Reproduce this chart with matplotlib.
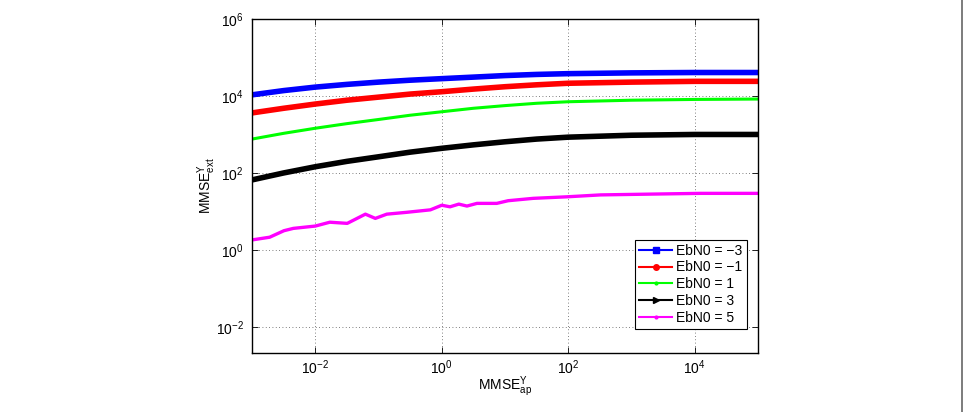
import matplotlib
matplotlib.use("Agg")
import matplotlib.pyplot as plt
from matplotlib.lines import Line2D

plt.rcParams['font.family'] = ['Liberation Sans', 'DejaVu Sans']
plt.rcParams['mathtext.fontset'] = 'custom'
plt.rcParams['mathtext.rm'] = 'Liberation Sans'
plt.rcParams['mathtext.it'] = 'Liberation Sans'

# smooth curves sampled at these MMSE_ap values (half decades)
x_smooth = [1e-3, 3.16e-3, 1e-2, 3.16e-2, 0.1, 0.316, 1.0, 3.16, 10, 31.6, 100, 1e3, 1e4, 1e5]
y_m3 = [10700, 13800, 17000, 20000, 22900, 25700, 28200, 30900, 33900, 36300, 38000, 39800, 40700, 40700]
y_m1 = [3630, 4790, 6170, 7760, 9330, 11200, 12900, 15100, 17400, 19500, 21400, 22900, 24000, 24000]
y_p1 = [759, 1070, 1450, 1910, 2450, 3160, 3890, 4790, 5620, 6460, 7080, 7760, 8130, 8320]
y_p3 = [66, 100, 145, 200, 263, 347, 437, 537, 646, 759, 851, 955, 1000, 1000]

# noisy EbN0 = 5 curve
x_p5 = [1e-3, 1.9e-3, 3.2e-3, 4.5e-3, 1e-2, 1.7e-2, 3.2e-2, 6.2e-2, 8.9e-2, 0.135,
        0.28, 0.66, 1.0, 1.35, 1.86, 2.5, 3.6, 7.4, 11.2, 28, 95, 324, 2000, 12300, 1e5]
y_p5 = [1.82, 2.14, 3.16, 3.63, 4.17, 5.25, 4.9, 8.5, 6.6, 8.5,
        9.5, 11.0, 14.5, 13.2, 15.5, 13.8, 16.2, 16.2, 19.0, 21.9, 24.0, 26.9, 28.2, 29.5, 29.5]

labels = ['EbN0 = \u22123', 'EbN0 = \u22121', 'EbN0 = 1', 'EbN0 = 3', 'EbN0 = 5']
colors = ['#0000ff', '#ff0000', '#00ff00', '#000000', '#ff00ff']
markers = ['s', 'o', '.', '>', '.']

fig = plt.figure(figsize=(9.66, 4.12), dpi=100)
ax = fig.add_axes([0.2609, 0.1432, 0.5238, 0.8107])

series = [(x_smooth, y_m3, 4.0), (x_smooth, y_m1, 4.0), (x_smooth, y_p1, 2.2),
          (x_smooth, y_p3, 4.0), (x_p5, y_p5, 2.4)]
for (xs, ys, lw), c in zip(series, colors):
    ax.plot(xs, ys, color=c, lw=lw, solid_capstyle='butt', solid_joinstyle='round')

ax.set_xscale('log')
ax.set_yscale('log')
ax.set_xlim(1e-3, 1e5)
ax.set_ylim(2.1e-3, 1e6)
ax.set_xticks([1e-2, 1e0, 1e2, 1e4])
ax.set_yticks([1e-2, 1e0, 1e2, 1e4, 1e6])
ax.minorticks_off()
ax.tick_params(direction='in', top=True, right=True, labelsize=10, length=4, width=0.6)
ax.tick_params(axis='y', pad=6)
ax.tick_params(axis='x', pad=4)
ax.grid(True, which='major', linestyle=(0, (1, 3)), color='#555555', linewidth=0.6)
for s in ax.spines.values():
    s.set_linewidth(1.0)

ax.set_xlabel(r'MMSE$^{\mathrm{Y}}_{\mathrm{ap}}$', fontsize=10, labelpad=-2)
ax.set_ylabel(r'MMSE$^{\mathrm{Y}}_{\mathrm{ext}}$', fontsize=10, labelpad=-2)

handles = [Line2D([], [], color=c, marker=m, markersize=4, lw=1.5)
           for c, m in zip(colors, markers)]
leg = ax.legend(handles, labels, loc='lower right', bbox_to_anchor=(0.978, 0.072),
                borderaxespad=0, fontsize=10, fancybox=False, edgecolor='black',
                framealpha=1, handlelength=2.4, labelspacing=0.2, borderpad=0.3,
                handletextpad=0.3)
leg.get_frame().set_linewidth(0.8)

# page border on the right
fig.add_artist(Line2D([962 / 966, 962 / 966], [0, 1], transform=fig.transFigure,
                      color='#666666', lw=1.2))

fig.savefig('out.png', dpi=100)
